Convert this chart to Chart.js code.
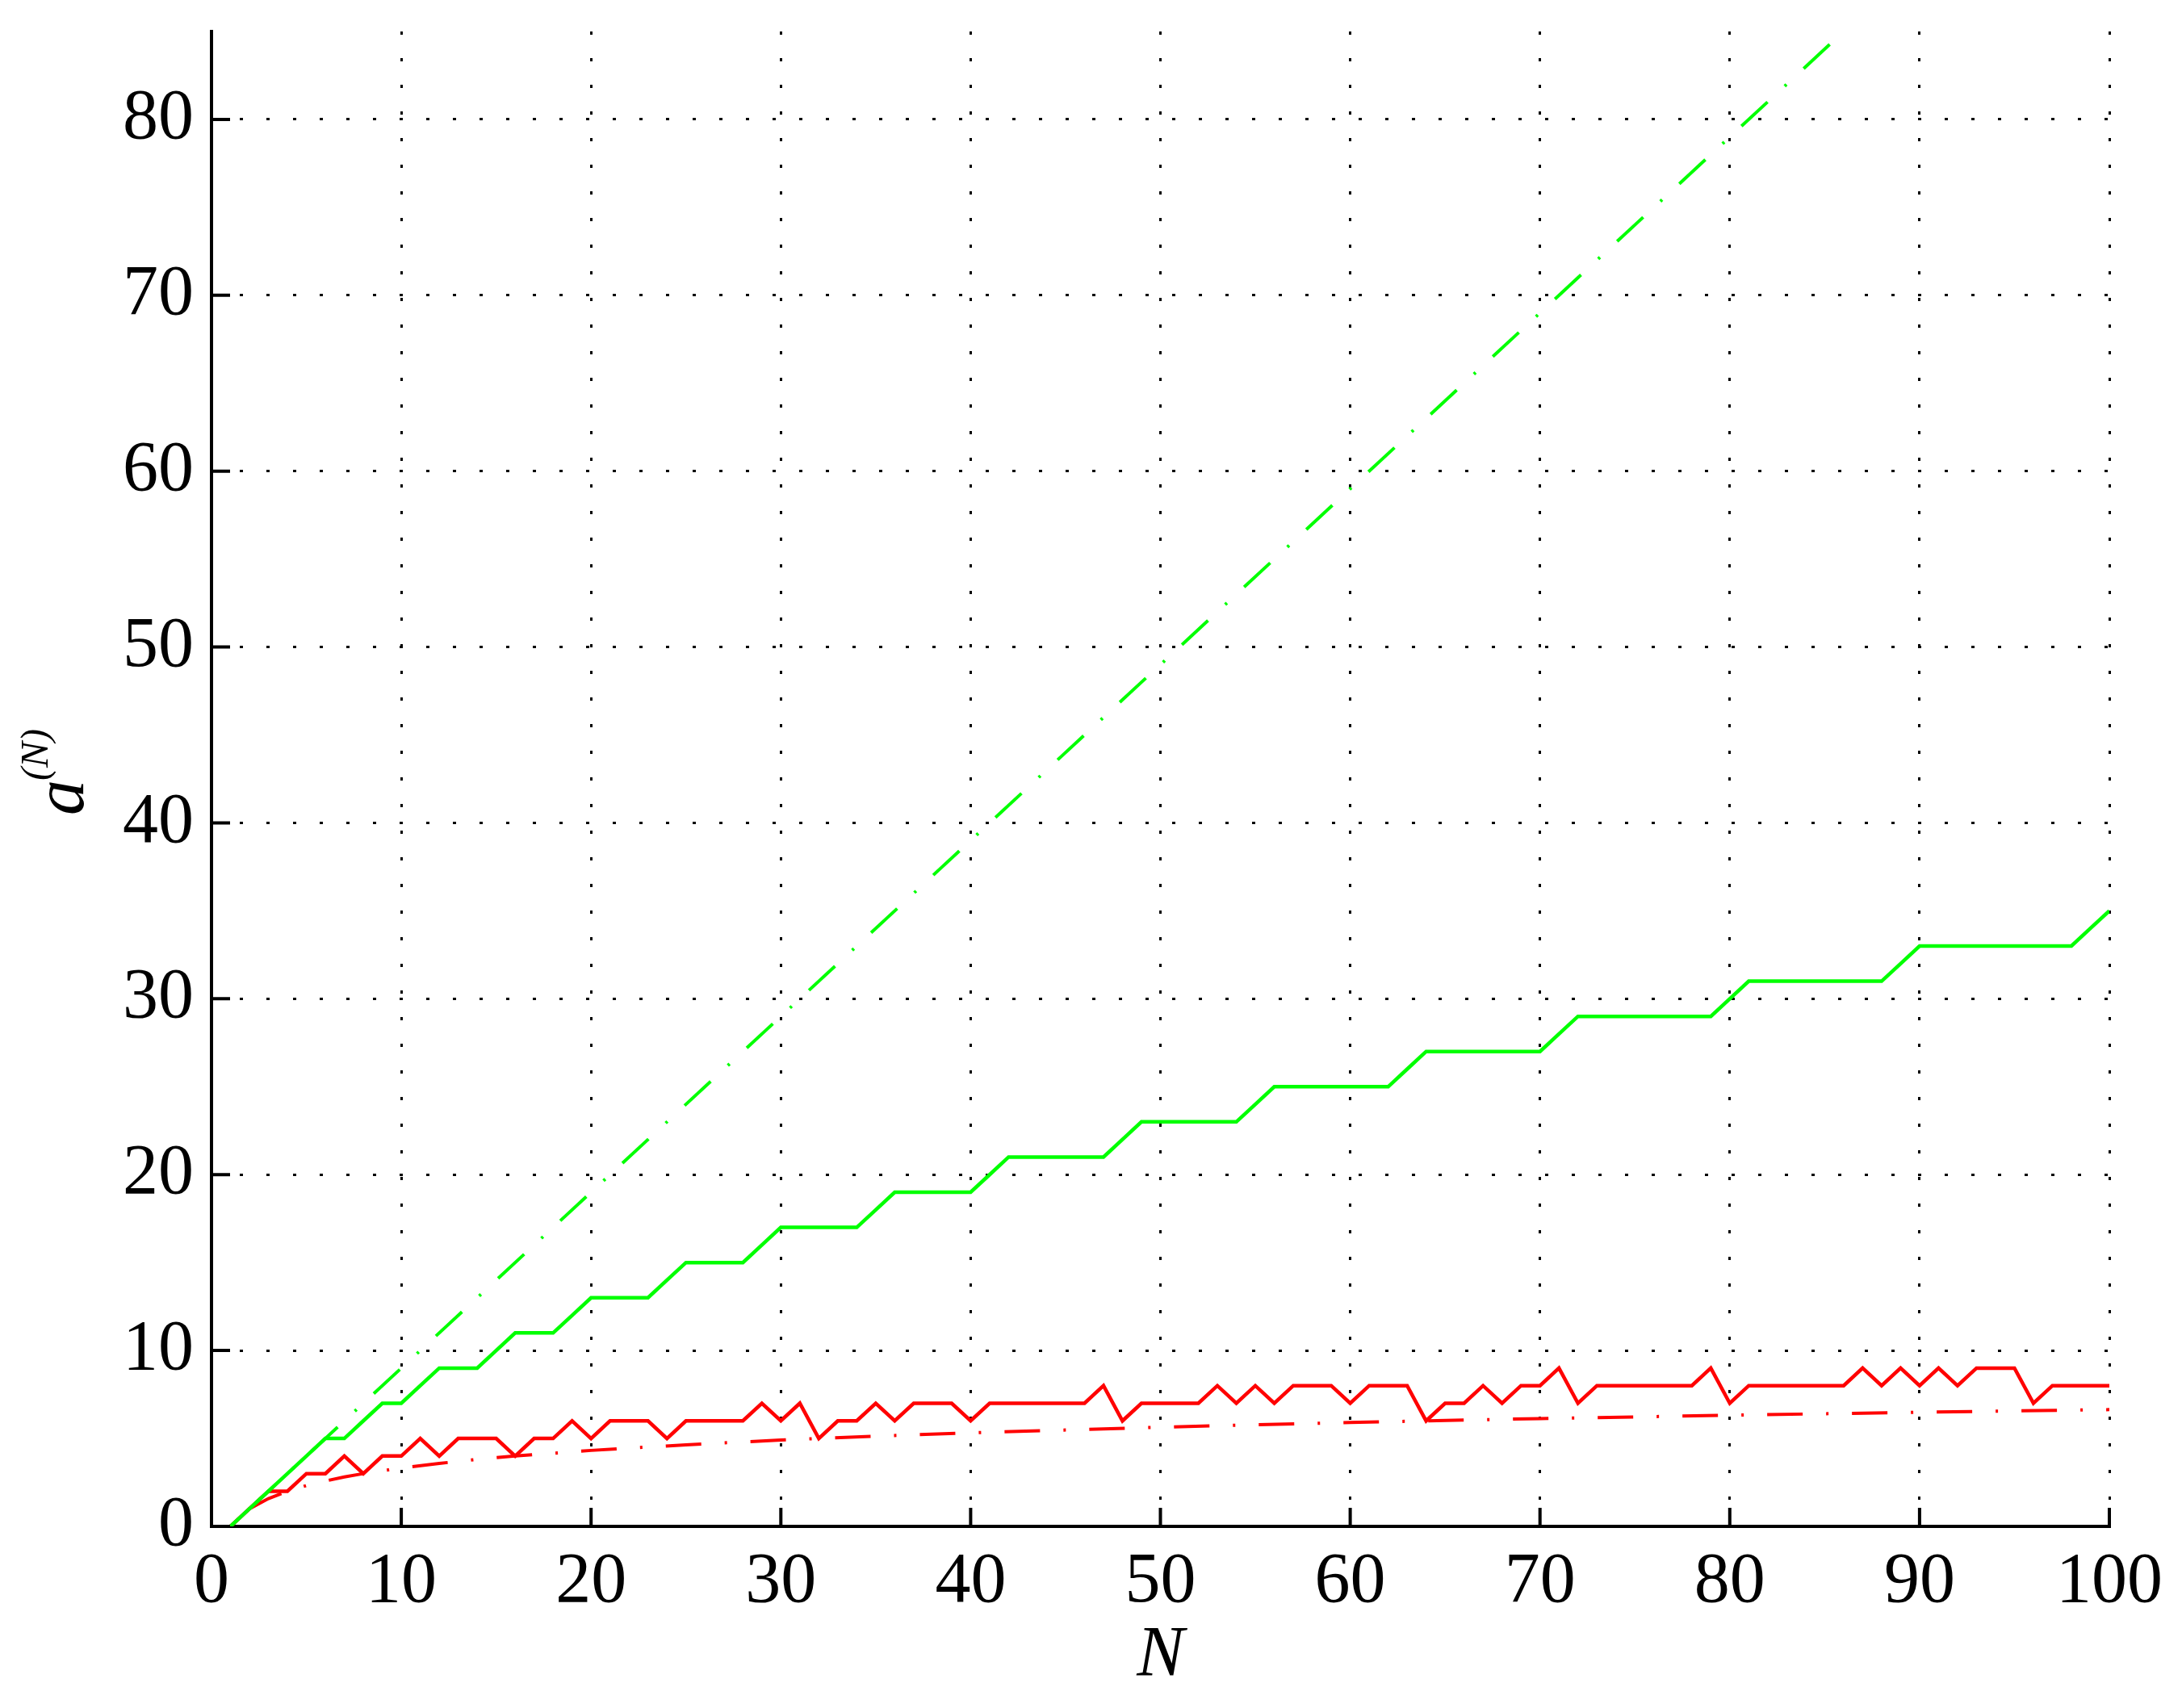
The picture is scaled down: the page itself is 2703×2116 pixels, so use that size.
<!DOCTYPE html>
<html>
<head>
<meta charset="utf-8">
<script src="https://cdn.jsdelivr.net/npm/chart.js@4.4.1/dist/chart.umd.min.js"></script>
<style>
    html, body { margin: 0; padding: 0; background: #fff; }
    canvas { display: block; }
</style>
</head>
<body>
<canvas id="chart" width="2703" height="2116" style="width:2703px;height:2116px"></canvas>
<script>
// --- Data ---
const nSteps = [1, 2, 3, 4, 5, 6, 7, 8, 9, 10, 11, 12, 13, 14, 15, 16, 17, 18, 19, 20,
    21, 22, 23, 24, 25, 26, 27, 28, 29, 30, 31, 32, 33, 34, 35, 36, 37, 38, 39, 40,
    41, 42, 43, 44, 45, 46, 47, 48, 49, 50, 51, 52, 53, 54, 55, 56, 57, 58, 59, 60,
    61, 62, 63, 64, 65, 66, 67, 68, 69, 70, 71, 72, 73, 74, 75, 76, 77, 78, 79, 80,
    81, 82, 83, 84, 85, 86, 87, 88, 89, 90, 91, 92, 93, 94, 95, 96, 97, 98, 99, 100];

// green solid staircase
const greenSolid = [0, 1, 2, 3, 4, 5, 5, 6, 7, 7, 8, 9, 9, 9, 10, 11, 11, 11, 12, 13,
    13, 13, 13, 14, 15, 15, 15, 15, 16, 17, 17, 17, 17, 17, 18, 19, 19, 19, 19, 19,
    20, 21, 21, 21, 21, 21, 21, 22, 23, 23, 23, 23, 23, 23, 24, 25, 25, 25, 25, 25,
    25, 25, 26, 27, 27, 27, 27, 27, 27, 27, 28, 29, 29, 29, 29, 29, 29, 29, 29, 30,
    31, 31, 31, 31, 31, 31, 31, 31, 32, 33, 33, 33, 33, 33, 33, 33, 33, 33, 34, 35];

// red solid jagged line
const redSolid = [0, 1, 2, 2, 3, 3, 4, 3, 4, 4, 5, 4, 5, 5, 5, 4, 5, 5, 6, 5,
    6, 6, 6, 5, 6, 6, 6, 6, 7, 6, 7, 5, 6, 6, 7, 6, 7, 7, 7, 6,
    7, 7, 7, 7, 7, 7, 8, 6, 7, 7, 7, 7, 8, 7, 8, 7, 8, 8, 8, 7,
    8, 8, 8, 6, 7, 7, 8, 7, 8, 8, 9, 7, 8, 8, 8, 8, 8, 8, 9, 7,
    8, 8, 8, 8, 8, 8, 9, 8, 9, 8, 9, 8, 9, 9, 9, 7, 8, 8, 8, 8];

// green dash-dot straight line (runs off the top)
const greenLineN = [1, 100];
const greenLineVals = [0, 99];

// red dash-dot slow curve
const redCurveN = [1, 2, 3, 4, 5, 6, 7, 8, 10, 12, 14, 16, 20, 25, 30, 35, 40, 50, 60, 70, 80, 90, 100];
const redCurveVals = [0, 1, 1.58, 2, 2.32, 2.58, 2.81, 3, 3.32, 3.58, 3.81, 4, 4.32, 4.64, 4.91, 5.13,
    5.32, 5.64, 5.91, 6.13, 6.32, 6.49, 6.64];

const xTicks = [0, 10, 20, 30, 40, 50, 60, 70, 80, 90, 100];
const yTicks = [0, 10, 20, 30, 40, 50, 60, 70, 80];

const toPoints = (xs, ys) => xs.map((x, i) => ({ x, y: ys[i] }));

const FONT = '"Liberation Serif", "Times New Roman", serif';
const GREEN = '#00ff00';
const RED = '#ff0000';
const DASH_DOT = [44, 29, 3, 29];

// --- Inward ticks and the y label with superscript ---
const matlabAxes = {
    id: 'matlabAxes',
    afterDraw(chart) {
        const { ctx, chartArea: area, scales } = chart;
        ctx.save();
        ctx.strokeStyle = '#000';
        ctx.lineWidth = 4;
        ctx.beginPath();
        xTicks.forEach(v => {
            const px = scales.x.getPixelForValue(v);
            ctx.moveTo(px, area.bottom);
            ctx.lineTo(px, area.bottom - 23);
        });
        yTicks.forEach(v => {
            const py = scales.y.getPixelForValue(v);
            ctx.moveTo(area.left, py);
            ctx.lineTo(area.left + 23, py);
        });
        ctx.stroke();

        // y axis label: a^(N), rotated
        ctx.fillStyle = '#000';
        ctx.translate(area.left - 159, 1010);
        ctx.rotate(-Math.PI / 2);
        ctx.textBaseline = 'alphabetic';
        ctx.textAlign = 'left';
        ctx.font = 'italic 88px ' + FONT;
        ctx.fillText('a', 0, 0);
        const w = ctx.measureText('a').width;
        ctx.font = 'italic 48px ' + FONT;
        ctx.fillText('(N)', w - 1, -44);
        ctx.restore();
    }
};

const ctx = document.getElementById('chart').getContext('2d');
new Chart(ctx, {
    type: 'line',
    data: {
        datasets: [
            {
                label: 'green dash-dot',
                data: toPoints(greenLineN, greenLineVals),
                borderColor: GREEN,
                borderWidth: 4,
                borderDash: DASH_DOT,
                borderDashOffset: 73
            },
            {
                label: 'green solid',
                data: toPoints(nSteps, greenSolid),
                borderColor: GREEN,
                borderWidth: 4.5
            },
            {
                label: 'red dash-dot',
                data: toPoints(redCurveN, redCurveVals),
                borderColor: RED,
                borderWidth: 4,
                borderDash: DASH_DOT,
                borderDashOffset: 73
            },
            {
                label: 'red solid',
                data: toPoints(nSteps, redSolid),
                borderColor: RED,
                borderWidth: 4.5
            }
        ]
    },
    options: {
        responsive: false,
        devicePixelRatio: 1,
        animation: false,
        layout: { padding: { left: 0, top: 39, right: 90, bottom: 0 } },
        elements: {
            point: { radius: 0 },
            line: { tension: 0, fill: false, borderJoinStyle: 'miter' }
        },
        plugins: {
            legend: { display: false },
            tooltip: { enabled: false }
        },
        scales: {
            x: {
                type: 'linear',
                min: 0,
                max: 100,
                afterBuildTicks: (scale) => { scale.ticks = xTicks.map(v => ({ value: v })); },
                afterFit: (scale) => { scale.height = 225; scale.paddingLeft = 0; scale.paddingRight = 0; },
                ticks: {
                    color: '#000',
                    font: { family: FONT, size: 88, lineHeight: 1 },
                    padding: 26,
                    maxRotation: 0,
                    autoSkip: false
                },
                grid: { color: '#000', lineWidth: 3, drawTicks: false },
                border: { display: true, color: '#000', width: 4, dash: [4, 29] },
                title: {
                    display: true,
                    text: 'N',
                    color: '#000',
                    font: { family: FONT, size: 88, style: 'italic', lineHeight: 1 },
                    padding: { top: 0, bottom: 20 }
                }
            },
            y: {
                type: 'linear',
                min: 0,
                max: 85,
                afterBuildTicks: (scale) => { scale.ticks = yTicks.map(v => ({ value: v })); },
                afterFit: (scale) => { scale.width = 262; scale.paddingTop = 0; scale.paddingBottom = 0; },
                ticks: {
                    color: '#000',
                    font: { family: FONT, size: 88, lineHeight: 1 },
                    padding: 22
                },
                grid: { color: '#000', lineWidth: 3, drawTicks: false },
                border: { display: true, color: '#000', width: 4, dash: [4, 29] }
            }
        }
    },
    plugins: [matlabAxes]
});
</script>
</body>
</html>
